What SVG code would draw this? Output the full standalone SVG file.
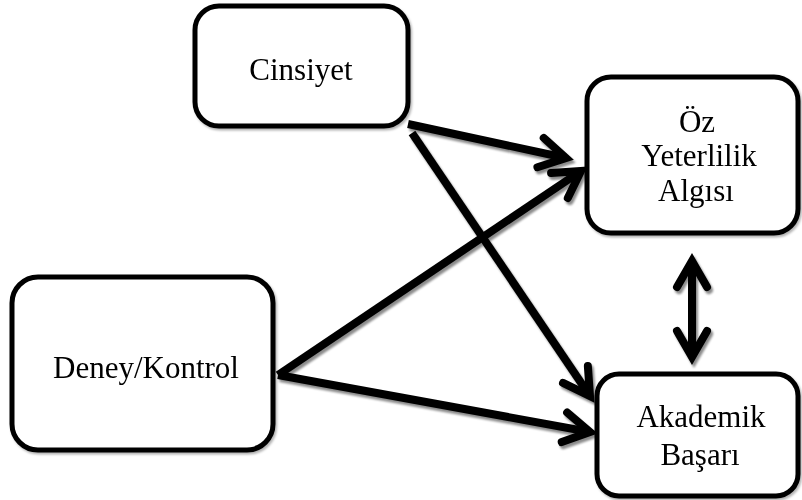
<svg xmlns="http://www.w3.org/2000/svg" width="802" height="500" viewBox="0 0 802 500">
  <style>
    .box { fill: #ffffff; stroke: #000000; stroke-width: 5; }
    .label { font-family: "Liberation Serif", "Times New Roman", serif; font-size: 31px; fill: #000000; text-anchor: middle; }
    .conn { stroke: #000000; stroke-width: 8; fill: none; }
  </style>
  <defs>
    <filter id="shadow" x="-10%" y="-10%" width="130%" height="130%">
      <feDropShadow dx="2" dy="3" stdDeviation="1.2" flood-color="#000000" flood-opacity="0.45"/>
    </filter>
    <filter id="boxShadow" x="-5%" y="-5%" width="115%" height="115%">
      <feDropShadow dx="1.5" dy="2" stdDeviation="1" flood-color="#000000" flood-opacity="0.3"/>
    </filter>
    <marker id="head" markerUnits="userSpaceOnUse" markerWidth="40" markerHeight="40" refX="0" refY="0" orient="auto-start-reverse" overflow="visible">
      <path d="M -26 -15 L 0 0 L -26 15" fill="none" stroke="#000000" stroke-width="8" stroke-linecap="round" stroke-linejoin="miter"/>
    </marker>
  </defs>

  <rect width="802" height="500" fill="#ffffff"/>

  <g id="connectors" filter="url(#shadow)">
    <line class="conn" x1="408" y1="124" x2="566" y2="158" marker-end="url(#head)"/>
    <line class="conn" x1="412" y1="133" x2="590" y2="396" marker-end="url(#head)"/>
    <line class="conn" x1="278" y1="375" x2="581" y2="171" marker-end="url(#head)"/>
    <line class="conn" x1="278" y1="375" x2="590" y2="432" marker-end="url(#head)"/>
    <line class="conn" x1="692" y1="261" x2="692" y2="357" marker-start="url(#head)" marker-end="url(#head)"/>
  </g>

  <g id="cinsiyet" filter="url(#boxShadow)">
    <rect class="box" x="195" y="6" width="213" height="120" rx="24"/>
    <text class="label" x="301" y="80">Cinsiyet</text>
  </g>

  <g id="oz-yeterlilik" filter="url(#boxShadow)">
    <rect class="box" x="587" y="77" width="211" height="156" rx="24"/>
    <text class="label" x="697" y="132">Öz</text>
    <text class="label" x="699" y="166">Yeterlilik</text>
    <text class="label" x="696" y="201">Algısı</text>
  </g>

  <g id="deney-kontrol" filter="url(#boxShadow)">
    <rect class="box" x="12" y="277" width="261" height="173" rx="26"/>
    <text class="label" x="146" y="378">Deney/Kontrol</text>
  </g>

  <g id="akademik-basari" filter="url(#boxShadow)">
    <rect class="box" x="597" y="374" width="201" height="122" rx="22"/>
    <text class="label" x="701" y="427">Akademik</text>
    <text class="label" x="700" y="465">Başarı</text>
  </g>
</svg>
